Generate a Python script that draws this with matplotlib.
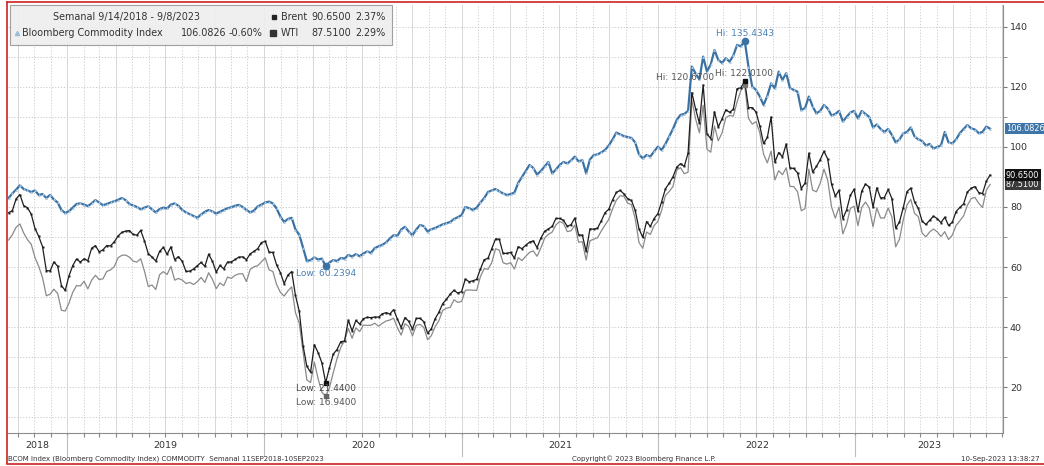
import datetime as dt

import matplotlib
matplotlib.use("Agg")
import matplotlib.pyplot as plt
import matplotlib.dates as mdates
from matplotlib.lines import Line2D
from matplotlib.patches import Rectangle
from matplotlib.transforms import blended_transform_factory
import numpy as np
import pandas as pd

# weekly closes, Fridays 14-Sep-2018 .. 08-Sep-2023 (one row per year)
brent = [
    78.09, 78.80, 82.72, 84.16, 80.43, 79.78, 77.62, 72.83, 70.18, 66.76, 58.80, 58.71, 61.67, 60.28, 53.82, 52.20,
    57.06, 60.48, 62.70, 61.64, 62.75, 62.10, 66.25, 67.12, 65.07, 65.74, 67.16, 67.03, 68.39, 70.34, 71.55, 71.97,
    72.15, 70.85, 70.62, 72.21, 68.69, 64.49, 63.29, 62.01, 65.20, 66.55, 64.23, 66.72, 62.47, 63.46, 61.89, 58.53,
    58.64, 59.34, 60.43, 61.54, 60.22, 64.28, 61.91, 58.37, 60.51, 59.42, 61.67, 61.69, 62.51, 63.30, 63.39, 62.43,
    64.39, 65.22, 66.14, 68.16,
    68.60, 64.98, 64.85, 60.69, 58.16, 54.47, 57.32, 58.50, 50.52, 45.27, 33.85, 26.98, 24.93, 34.11, 31.48, 28.08,
    21.44, 26.44, 30.97, 32.50, 35.13, 35.33, 42.30, 38.73, 42.19, 41.02, 42.80, 43.24, 43.14, 43.34, 43.30, 44.40,
    44.80, 44.35, 45.81, 42.66, 39.83, 43.15, 41.92, 39.27, 42.85, 42.93, 41.77, 37.94, 39.45, 42.78, 44.96, 47.80,
    49.25, 50.97, 52.26, 51.29,
    51.80, 55.99, 55.10, 55.41, 55.88, 59.34, 62.43, 62.91, 66.13, 69.36, 69.22, 64.53, 64.57, 64.86, 62.95, 66.77,
    66.11, 67.25, 68.28, 68.71, 66.44, 69.63, 71.89, 72.69, 73.51, 76.18, 76.17, 75.55, 73.59, 74.10, 76.33, 70.70,
    70.59, 65.18, 72.70, 72.61, 72.92, 75.34, 78.09, 79.28, 82.39, 84.86, 85.53, 84.38, 82.74, 82.17, 78.89, 72.72,
    69.88, 75.15, 73.52, 76.14, 77.78,
    81.75, 86.06, 87.89, 90.03, 93.27, 94.44, 93.54, 97.93, 118.11, 112.67, 107.93, 120.65, 104.39, 102.78, 111.70,
    106.65, 109.34, 112.39, 111.55, 112.55, 119.43, 119.72, 122.01, 113.12, 113.10, 111.63, 107.02, 101.16, 103.20,
    110.01, 94.92, 98.15, 96.72, 100.99, 93.02, 92.84, 91.35, 86.15, 87.96, 97.92, 91.63, 93.50, 95.77, 98.57, 95.99,
    87.62, 83.63, 85.57, 76.10, 79.04, 83.92, 85.91,
    78.57, 85.28, 87.63, 86.66, 79.94, 86.39, 83.00, 83.16, 85.83, 82.78, 72.97, 74.99, 79.77, 85.12, 86.31, 81.66,
    79.54, 75.30, 74.17, 75.58, 76.95, 76.13, 74.79, 76.61, 73.85, 74.90, 78.47, 79.87, 81.07, 84.99, 86.24, 86.81,
    84.80, 84.48, 88.55, 90.65,
]

wti = [
    68.99, 70.78, 73.25, 74.34, 71.34, 69.12, 67.59, 63.14, 60.19, 56.46, 50.42, 50.93, 52.61, 51.20, 45.59, 45.33,
    47.96, 51.59, 53.80, 53.69, 55.26, 52.72, 55.59, 57.26, 55.80, 56.07, 58.52, 59.04, 60.14, 63.08, 63.89, 64.00,
    63.30, 61.94, 61.66, 62.76, 58.63, 53.50, 54.00, 52.51, 57.43, 58.47, 57.51, 60.21, 55.63, 56.20, 55.66, 54.50,
    54.87, 54.17, 55.10, 56.52, 54.85, 58.09, 55.91, 52.81, 54.70, 53.78, 56.66, 56.20, 57.24, 57.72, 57.77, 55.17,
    59.20, 60.07, 60.44, 61.72,
    63.05, 59.04, 58.54, 54.19, 51.56, 50.32, 52.05, 53.38, 44.76, 41.28, 31.73, 22.43, 21.51, 28.34, 22.76, 18.27,
    16.94, 19.78, 24.74, 29.43, 33.25, 35.49, 39.55, 36.26, 39.75, 38.49, 40.65, 40.55, 40.59, 41.29, 40.27, 41.22,
    42.01, 42.34, 42.97, 39.77, 37.33, 41.11, 40.25, 37.05, 40.60, 40.88, 39.85, 35.79, 37.14, 40.13, 42.15, 45.53,
    46.26, 46.57, 49.10, 48.23,
    48.52, 52.24, 52.36, 52.27, 52.20, 56.85, 59.47, 59.24, 61.50, 66.09, 65.61, 61.42, 60.97, 61.45, 59.32, 63.13,
    62.14, 63.58, 64.90, 65.37, 63.58, 66.32, 69.62, 70.91, 71.64, 74.05, 75.16, 74.56, 71.81, 72.07, 73.95, 68.28,
    68.44, 62.32, 68.74, 69.29, 69.72, 71.97, 73.98, 75.88, 79.35, 82.28, 83.76, 83.57, 81.27, 80.79, 76.10, 68.15,
    66.26, 71.67, 70.86, 73.79, 75.21,
    78.90, 83.82, 85.14, 86.82, 92.31, 93.10, 91.07, 91.59, 115.68, 109.33, 104.70, 113.90, 99.27, 98.26, 106.95,
    102.07, 104.69, 109.77, 110.49, 110.28, 115.07, 118.87, 120.67, 109.56, 107.62, 108.43, 104.79, 97.59, 94.70,
    98.62, 89.01, 92.09, 90.77, 93.06, 86.87, 86.79, 85.11, 78.74, 79.49, 92.64, 85.61, 85.05, 87.90, 92.61, 88.96,
    80.08, 76.28, 79.98, 71.02, 74.29, 79.56, 80.26,
    73.77, 79.86, 81.64, 79.68, 73.39, 79.72, 76.34, 76.32, 79.68, 76.68, 66.74, 69.26, 75.67, 80.70, 82.52, 77.87,
    76.78, 71.34, 70.04, 71.69, 72.67, 71.74, 70.17, 71.78, 69.16, 70.64, 73.86, 75.42, 77.07, 80.58, 82.82, 83.19,
    81.25, 79.83, 85.55, 87.51,
]

bcom = [
    83.0, 84.5, 85.8, 87.2, 86.0, 85.5, 85.0, 85.5, 84.0, 84.3, 83.0, 84.0, 82.5, 81.5, 79.0, 78.0,
    78.6, 79.8, 81.0, 81.2, 80.8, 80.3, 81.2, 82.3, 81.5, 80.6, 81.0, 81.5, 81.9, 82.4, 83.0, 82.3,
    81.0, 80.5, 80.0, 79.2, 79.8, 80.2, 79.2, 78.2, 79.3, 79.8, 79.5, 80.8, 81.2, 80.4, 79.0, 78.2,
    77.6, 77.0, 76.4, 77.5, 78.4, 79.0, 78.5, 77.8, 78.4, 79.0, 79.6, 79.9, 80.4, 80.7, 80.0, 79.0,
    78.2, 78.8, 80.2, 80.8,
    81.5, 81.8, 81.2, 79.5, 76.8, 75.0, 76.0, 76.4, 72.5, 70.8, 66.5, 62.0, 62.3, 63.2, 62.5, 62.8,
    60.2394, 61.5, 62.3, 62.0, 63.0, 62.8, 64.0, 63.5, 64.3, 63.6, 64.5, 65.2, 64.7, 66.3, 66.9, 67.4,
    68.2, 69.5, 70.6, 70.4, 72.5, 73.4, 71.8, 70.6, 72.5, 74.0, 73.6, 71.8, 72.6, 73.0, 73.6, 74.2,
    74.6, 75.0, 76.0, 76.6,
    77.3, 80.0, 79.6, 79.0, 79.8, 81.5, 83.0, 85.0, 85.5, 86.0, 85.2, 84.5, 84.0, 84.3, 84.8, 88.0,
    90.0, 92.0, 94.0, 93.0, 90.8, 92.0, 93.5, 95.0, 91.2, 92.5, 94.0, 95.0, 94.5, 95.5, 96.8, 95.2,
    95.6, 91.2, 95.8, 97.3, 97.5, 98.2, 99.0, 100.5, 102.5, 104.8, 104.2, 103.6, 103.3, 103.0, 101.5, 97.5,
    96.2, 97.3, 96.8, 98.5, 100.1,
    99.0, 101.0, 103.5, 106.0, 109.0, 110.7, 111.0, 112.0, 126.8, 124.5, 122.5, 130.1, 125.1, 127.5, 132.3,
    129.0, 128.0, 129.6, 128.4, 130.5, 134.0, 133.5, 135.4343, 126.8, 120.1, 119.0, 116.8, 114.0, 117.0,
    121.2, 119.5, 125.1, 122.3, 124.6, 119.6, 119.0, 118.4, 112.3, 113.0, 116.8, 113.5, 111.2, 112.0, 114.0, 112.8,
    110.5, 111.0, 112.0, 108.5, 110.0, 111.5, 112.0,
    109.5, 112.0, 111.0, 110.0, 106.5, 107.5, 106.0, 105.0, 106.0, 104.0, 101.5, 102.5, 104.5, 105.0, 106.5, 103.5,
    102.5, 102.0, 100.5, 101.0, 99.5, 100.0, 100.5, 105.0, 101.5, 101.2, 102.5, 104.6, 106.0, 107.3, 106.2, 105.8,
    104.6, 105.0, 106.8, 106.0826,
]

dates = pd.date_range("2018-09-14", periods=len(brent), freq="W-FRI")
brent = np.array(brent)
wti = np.array(wti)
bcom = np.array(bcom)

W, H = 1044, 466
BLUE = "#3b72a4"


def fx(px):
    return px / W


def fy(py):
    return 1 - py / H


fig = plt.figure(figsize=(W / 100, H / 100), dpi=100)
fig.patch.set_facecolor("white")
ax = fig.add_axes([fx(7.5), fy(433), fx(1003) - fx(7.5), fy(5) - fy(433)])

x0, x1 = dt.date(2018, 9, 12), dt.date(2023, 10, 2)
ax.set_xlim(x0, x1)
ax.set_ylim(4.7, 147.3)

# grid: dotted every 10 / every month, solid at quarter starts
for v in range(10, 141, 10):
    ax.axhline(v, color="#c4c4c4", lw=0.6, ls=(0, (1.5, 2)), zorder=0)
months = pd.date_range("2018-10-01", "2023-10-01", freq="MS")
for m in months:
    if m.month in (1, 4, 7, 10):
        ax.axvline(m, color="#d6d6d6", lw=0.7, zorder=0)
    else:
        ax.axvline(m, color="#c8c8c8", lw=0.6, ls=(0, (1.5, 2)), zorder=0)

ax.plot(dates, wti, color="#8a8a8a", lw=0.9, zorder=3)
ax.plot(dates, brent, color="#1e1e1e", lw=0.9, marker="s", ms=2.0, mec="none", zorder=4)
ax.plot(dates, bcom, color=BLUE, lw=1.6, marker="^", ms=2.0, mfc="#aac8e4", mec="none", zorder=5)

# axes look
for s in ("top", "left"):
    ax.spines[s].set_visible(False)
for s in ("right", "bottom"):
    ax.spines[s].set_color("#8c8c8c")
    ax.spines[s].set_linewidth(0.8)
ax.yaxis.tick_right()
ax.set_yticks(range(20, 141, 20))
ax.set_yticks(range(10, 141, 10), minor=True)
ax.tick_params(axis="y", which="both", direction="out", length=3, color="#777777",
               labelsize=6.8, labelcolor="#333333", pad=2)
ax.set_xticks(months)
ax.set_xticklabels([])
ax.tick_params(axis="x", which="both", direction="out", length=3, color="#888888")

# year band under the plot
trans = blended_transform_factory(ax.transData, fig.transFigure)
n0, n1 = mdates.date2num(x0), mdates.date2num(x1)
for yr in range(2018, 2024):
    a = max(mdates.date2num(dt.date(yr, 1, 1)), n0)
    b = min(mdates.date2num(dt.date(yr + 1, 1, 1)), n1)
    ax.text((a + b) / 2, fy(446), str(yr), transform=trans, ha="center", va="center",
            fontsize=6.8, color="#333333")
    if yr > 2018:
        ax.plot([a, a], [fy(435), fy(456)], transform=trans, color="#bdbdbd", lw=0.8, clip_on=False)

# hi / low markers and labels
i = np.argmax(bcom)
ax.plot(dates[i], bcom[i], "o", ms=4.5, color=BLUE, zorder=6)
ax.annotate(f"Hi: {bcom[i]:.4f}", (dates[i], bcom[i]), xytext=(0, 3), textcoords="offset pixels",
            ha="center", va="bottom", fontsize=6.5, color="#4b81b5", zorder=7)
i = np.argmin(bcom)
ax.plot(dates[i], bcom[i], "o", ms=4.5, color=BLUE, zorder=6)
ax.annotate(f"Low: {bcom[i]:.4f}", (dates[i], bcom[i]), xytext=(0, -3), textcoords="offset pixels",
            ha="center", va="top", fontsize=6.5, color="#4b81b5", zorder=7)
i = np.argmax(wti)
ax.plot(dates[i], wti[i], "s", ms=3, color="#777777", zorder=6)
ax.annotate(f"Hi: {wti[i]:.4f}", (dates[i], wti[i]), xytext=(-31, 7), textcoords="offset pixels",
            ha="right", va="center", fontsize=6.5, color="#555555", zorder=7)
i = np.argmax(brent)
ax.plot(dates[i], brent[i], "s", ms=3.5, color="#111111", zorder=6)
ax.annotate(f"Hi: {brent[i]:.4f}", (dates[i], brent[i]), xytext=(-30, 7), textcoords="offset pixels",
            ha="left", va="center", fontsize=6.5, color="#555555", zorder=7)
i = np.argmin(brent)
ax.plot(dates[i], brent[i], "s", ms=3.5, color="#111111", zorder=6)
ax.annotate(f"Low: {brent[i]:.4f}", (dates[i], brent[i]), xytext=(0, -6), textcoords="offset pixels",
            ha="center", va="center", fontsize=6.5, color="#444444", zorder=7)
i = np.argmin(wti)
ax.plot(dates[i], wti[i], "s", ms=3, color="#666666", zorder=6)
ax.annotate(f"Low: {wti[i]:.4f}", (dates[i], wti[i]), xytext=(0, -6), textcoords="offset pixels",
            ha="center", va="center", fontsize=6.5, color="#555555", zorder=7)

# last-value tags on the right axis
tr = blended_transform_factory(ax.transAxes, ax.transData)
for val, fc in ((wti[-1], "#3a3a3a"), (brent[-1], "#111111"), (bcom[-1], "#3d75a8")):
    ax.annotate(f"{val:.4f}", (1, val), xycoords=tr, xytext=(3, 0), textcoords="offset pixels",
                ha="left", va="center", fontsize=5.9, color="white", annotation_clip=False,
                bbox=dict(boxstyle="square,pad=0.15", fc=fc, ec="none"), zorder=8)

# legend box
fig.add_artist(Rectangle((fx(10), fy(45)), fx(392) - fx(10), fy(5) - fy(45), transform=fig.transFigure,
                         fc="#eeeeee", ec="#9a9a9a", lw=0.8, alpha=0.93, zorder=10))
lk = dict(fontsize=6.9, color="#333333", va="center", zorder=11)
fig.text(fx(53), fy(17), "Semanal 9/14/2018 - 9/8/2023", ha="left", **lk)
fig.add_artist(Line2D([fx(274)], [fy(17)], marker="s", ms=2.2, color="#222222", ls="none",
                      transform=fig.transFigure, zorder=11))
fig.text(fx(281), fy(17), "Brent", ha="left", **lk)
fig.text(fx(351), fy(17), f"{brent[-1]:.4f}", ha="right", **lk)
fig.text(fx(386), fy(17), "2.37%", ha="right", **lk)
fig.add_artist(Line2D([fx(17)], [fy(33)], marker="^", ms=3, color="#9dbcd8", ls="none",
                      transform=fig.transFigure, zorder=11))
fig.text(fx(22), fy(33), "Bloomberg Commodity Index", ha="left", **lk)
fig.text(fx(226), fy(33), f"{bcom[-1]:.4f}", ha="right", **lk)
fig.text(fx(262), fy(33), "-0.60%", ha="right", **lk)
fig.add_artist(Line2D([fx(273)], [fy(33)], marker="s", ms=5, color="#333333", ls="none",
                      transform=fig.transFigure, zorder=11))
fig.text(fx(281), fy(33), "WTI", ha="left", **lk)
fig.text(fx(351), fy(33), f"{wti[-1]:.4f}", ha="right", **lk)
fig.text(fx(386), fy(33), "2.29%", ha="right", **lk)

# footer
fk = dict(fontsize=5, color="#333333", va="center")
fig.text(fx(8), fy(459), "BCOM Index (Bloomberg Commodity Index) COMMODITY  Semanal 11SEP2018-10SEP2023", **fk)
fig.text(fx(572), fy(459), "Copyright\u00a9 2023 Bloomberg Finance L.P.", **fk)
fig.text(fx(1040), fy(459), "10-Sep-2023 13:38:27", ha="right", **fk)

# red frame
red = "#cc2222"
fig.add_artist(Line2D([fx(7), fx(7)], [fy(2), fy(463)], color=red, lw=1.2, transform=fig.transFigure))
fig.add_artist(Line2D([fx(7), 1], [fy(1.5), fy(1.5)], color=red, lw=1.2, transform=fig.transFigure))
fig.add_artist(Line2D([fx(7), 1], [fy(463.5), fy(463.5)], color=red, lw=1.2, transform=fig.transFigure))

fig.savefig("out.png", dpi=100)
